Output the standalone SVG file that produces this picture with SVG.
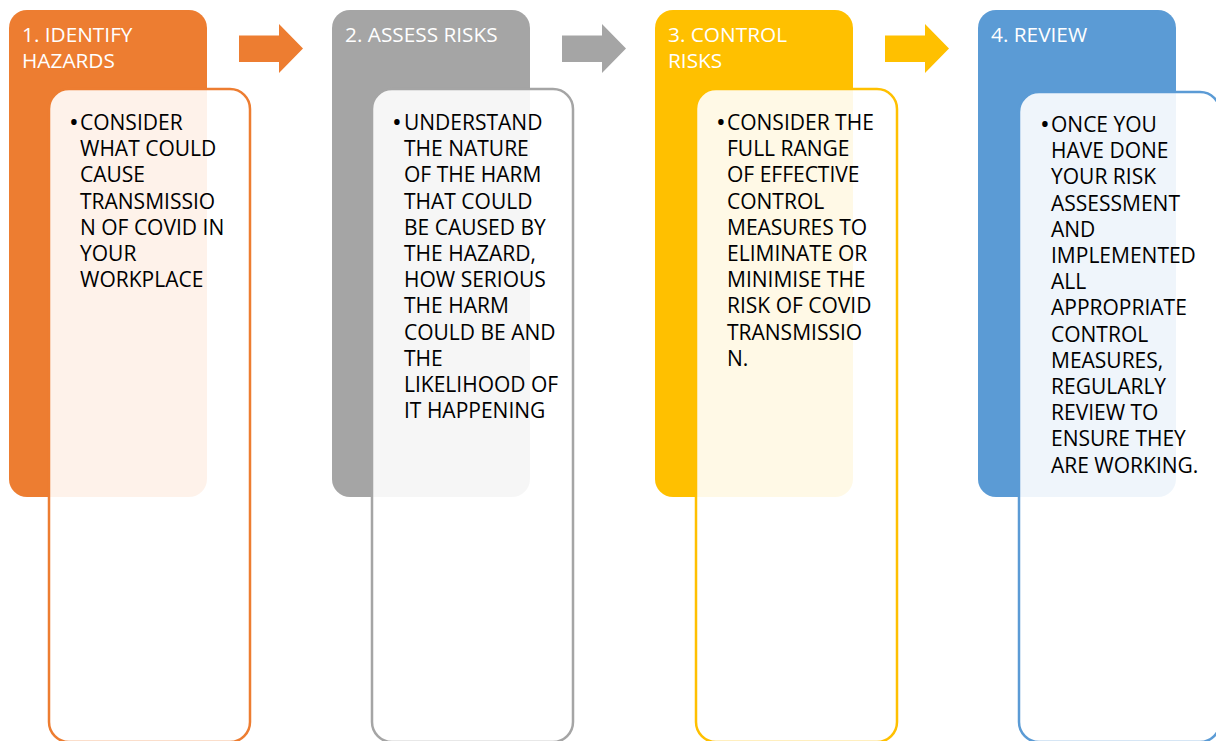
<svg xmlns="http://www.w3.org/2000/svg" width="1216" height="741" viewBox="0 0 1216 741">
  <style>
    .hdr { font-family: "Open Sans", "Liberation Sans", sans-serif; font-size: 20.8px; fill: #ffffff; }
    .body { font-family: "Open Sans", "Liberation Sans", sans-serif; font-size: 21px; fill: #000000; }
    .dot { font-family: "Open Sans", "Liberation Sans", sans-serif; font-size: 26px; fill: #000000; }
    .box { fill: #ffffff; fill-opacity: 0.9; stroke-width: 2.5; }
  </style>
  <rect width="1216" height="741" fill="#ffffff"/>

  <!-- arrows between steps -->
  <g id="connectors">
    <polygon points="239,35.5 279,35.5 279,24 303,48.5 279,73 279,62 239,62" fill="#ED7D31"/>
    <polygon points="562,35.5 602,35.5 602,24 626,48.5 602,73 602,62 562,62" fill="#A5A5A5"/>
    <polygon points="885,35.5 925,35.5 925,24 949,48.5 925,73 925,62 885,62" fill="#FFC000"/>
  </g>

  <!-- step 1 -->
  <g id="step1">
    <rect x="9" y="10" width="198" height="487" rx="18" fill="#ED7D31"/>
    <text class="hdr" x="22" y="42">1. IDENTIFY</text>
    <text class="hdr" x="22" y="68">HAZARDS</text>
    <rect class="box" x="49" y="89" width="201" height="653" rx="20" stroke="#ED7D31"/>
    <text class="dot" x="69" y="131">•</text>
    <text class="body">
      <tspan x="80" y="130">CONSIDER</tspan>
      <tspan x="80" y="156.2">WHAT COULD</tspan>
      <tspan x="80" y="182.4">CAUSE</tspan>
      <tspan x="80" y="208.6">TRANSMISSIO</tspan>
      <tspan x="80" y="234.8">N OF COVID IN</tspan>
      <tspan x="80" y="261">YOUR</tspan>
      <tspan x="80" y="287.2">WORKPLACE</tspan>
    </text>
  </g>

  <!-- step 2 -->
  <g id="step2">
    <rect x="332" y="10" width="198" height="487" rx="18" fill="#A5A5A5"/>
    <text class="hdr" x="345" y="42">2. ASSESS RISKS</text>
    <rect class="box" x="372" y="89" width="201" height="653" rx="20" stroke="#A5A5A5"/>
    <text class="dot" x="392" y="131">•</text>
    <text class="body">
      <tspan x="404" y="130">UNDERSTAND</tspan>
      <tspan x="404" y="156.2">THE NATURE</tspan>
      <tspan x="404" y="182.4">OF THE HARM</tspan>
      <tspan x="404" y="208.6">THAT COULD</tspan>
      <tspan x="404" y="234.8">BE CAUSED BY</tspan>
      <tspan x="404" y="261">THE HAZARD,</tspan>
      <tspan x="404" y="287.2">HOW SERIOUS</tspan>
      <tspan x="404" y="313.4">THE HARM</tspan>
      <tspan x="404" y="339.6">COULD BE AND</tspan>
      <tspan x="404" y="365.8">THE</tspan>
      <tspan x="404" y="392">LIKELIHOOD OF</tspan>
      <tspan x="404" y="418.2">IT HAPPENING</tspan>
    </text>
  </g>

  <!-- step 3 -->
  <g id="step3">
    <rect x="655" y="10" width="198" height="487" rx="18" fill="#FFC000"/>
    <text class="hdr" x="668" y="42">3. CONTROL</text>
    <text class="hdr" x="668" y="68">RISKS</text>
    <rect class="box" x="696" y="89" width="201" height="653" rx="20" stroke="#FFC000"/>
    <text class="dot" x="716" y="131">•</text>
    <text class="body">
      <tspan x="727" y="130">CONSIDER THE</tspan>
      <tspan x="727" y="156.2">FULL RANGE</tspan>
      <tspan x="727" y="182.4">OF EFFECTIVE</tspan>
      <tspan x="727" y="208.6">CONTROL</tspan>
      <tspan x="727" y="234.8">MEASURES TO</tspan>
      <tspan x="727" y="261">ELIMINATE OR</tspan>
      <tspan x="727" y="287.2">MINIMISE THE</tspan>
      <tspan x="727" y="313.4">RISK OF COVID</tspan>
      <tspan x="727" y="339.6">TRANSMISSIO</tspan>
      <tspan x="727" y="365.8">N.</tspan>
    </text>
  </g>

  <!-- step 4 -->
  <g id="step4">
    <rect x="978" y="10" width="198" height="487" rx="18" fill="#5B9BD5"/>
    <text class="hdr" x="991" y="42">4. REVIEW</text>
    <rect class="box" x="1019" y="92" width="201" height="650" rx="20" stroke="#5B9BD5"/>
    <text class="dot" x="1040" y="133">•</text>
    <text class="body">
      <tspan x="1051" y="132">ONCE YOU</tspan>
      <tspan x="1051" y="158.2">HAVE DONE</tspan>
      <tspan x="1051" y="184.4">YOUR RISK</tspan>
      <tspan x="1051" y="210.6">ASSESSMENT</tspan>
      <tspan x="1051" y="236.8">AND</tspan>
      <tspan x="1051" y="263">IMPLEMENTED</tspan>
      <tspan x="1051" y="289.2">ALL</tspan>
      <tspan x="1051" y="315.4">APPROPRIATE</tspan>
      <tspan x="1051" y="341.6">CONTROL</tspan>
      <tspan x="1051" y="367.8">MEASURES,</tspan>
      <tspan x="1051" y="394">REGULARLY</tspan>
      <tspan x="1051" y="420.2">REVIEW TO</tspan>
      <tspan x="1051" y="446.4">ENSURE THEY</tspan>
      <tspan x="1051" y="472.6">ARE WORKING.</tspan>
    </text>
  </g>
</svg>
